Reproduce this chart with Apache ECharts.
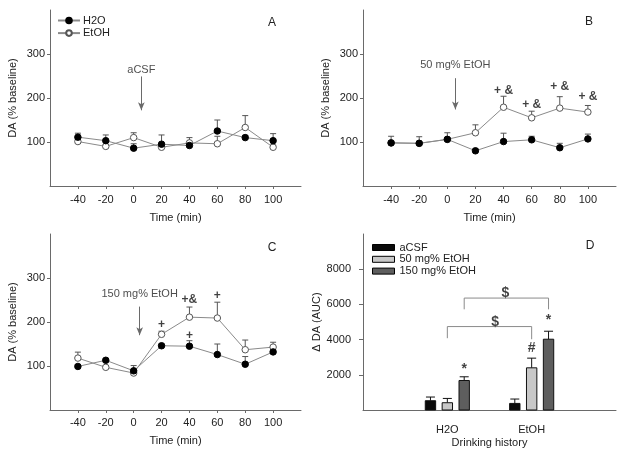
<!DOCTYPE html>
<html><head><meta charset="utf-8">
<script src="https://cdn.jsdelivr.net/npm/echarts@6/dist/echarts.min.js"></script>
<style>html,body{margin:0;padding:0;background:#fff}#c{width:624px;height:456px}</style>
</head><body><div id="c"></div>
<script>
// ---------- data ----------
const timeTicks = [-40, -20, 0, 20, 40, 60, 80, 100];
const pctTicks = [100, 200, 300];
const aucTicks = [2000, 4000, 6000, 8000];
const groups = ['H2O', 'EtOH'];

const A_h2o      = [111, 103, 86, 95, 92, 125, 110, 103];
const A_h2o_err  = [9, 13, 10, 21, 5, 25, 5, 16];
const A_etoh     = [101, 90, 110, 88, 98, 96, 133, 88];
const A_etoh_err = [4, 4, 11, 5, 12, 17, 27, 5];

const B_h2o      = [98, 97, 106, 80, 101, 105, 87, 107];
const B_h2o_err  = [4, 3, 4, 4, 19, 8, 10, 11];
const B_etoh     = [98, 97, 106, 121, 179, 155, 177, 168];
const B_etoh_err = [15, 15, 15, 18, 25, 15, 26, 15];

const C_h2o      = [99, 113, 89, 146, 145, 126, 104, 132];
const C_h2o_err  = [4, 3, 12, 4, 12.5, 24, 17.5, 6];
const C_etoh     = [118, 97, 84, 172, 211, 209, 137, 143];
const C_etoh_err = [13.5, 4, 6, 7, 23, 36, 22, 11];

const D_acsf     = [527, 374];
const D_acsf_err = [209, 249];
const D_50       = [413, 2397];
const D_50_err   = [244, 549];
const D_150      = [1677, 4022];
const D_150_err  = [210, 454];
const doseNames = ['aCSF', '50 mg% EtOH', '150 mg% EtOH'];

// annotations (data coordinates)
const annB = [[40, 217, '+ &'], [60, 185, '+ &'], [80, 225, '+ &'], [100, 204, '+ &']];
const annC = [[20, 194, '+'], [40, 251, '+&'], [60, 259, '+'], [40, 170, '+']];
const annD = [[1.2, 2300, '*'], [2.0, 3500, '#'], [2.2, 5100, '*'], [1.688, 6650, '$'], [1.566, 4970, '$']];
const arrows = [
  {text: 'aCSF', x: 5.5, top: 249, tip: 172, labelY: 263},
  {text: '50 mg% EtOH', x: 5.7, top: 245, tip: 174, labelY: 274},
  {text: '150 mg% EtOH', x: 4.3, top: 235, tip: 170, labelY: 264}
];
// brackets: [xLeft, xRight, yTop, yLeftEnd, yRightEnd]
const brackets = [[1.0, 2.0, 4740, 4080, 4020], [1.2, 2.2, 6360, 5720, 5720]];

// ---------- styling ----------
const FONT = "'Liberation Sans', Arial, sans-serif";
const TXT = '#222';
const AX = '#6a6a6a';
const grids = [
  {left: 50, top: 10, width: 251, height: 176},
  {left: 363, top: 10, width: 253, height: 176},
  {left: 50, top: 234, width: 251, height: 176},
  {left: 363, top: 234, width: 253, height: 176}
];

function timeAxis(gi, labelMargin, nameGap) {
  return {
    type: 'value', gridIndex: gi, min: -60, max: 120,
    name: 'Time (min)', nameLocation: 'middle', nameGap: nameGap,
    nameTextStyle: {fontFamily: FONT, fontSize: 11, color: TXT},
    axisLine: {show: true, onZero: false, lineStyle: {color: AX, width: 1}},
    axisTick: {show: true, length: 3, lineStyle: {color: AX}, customValues: timeTicks},
    axisLabel: {fontFamily: FONT, fontSize: 11, color: TXT, margin: labelMargin, customValues: timeTicks},
    splitLine: {show: false}
  };
}
function pctAxis(gi) {
  return {
    type: 'value', gridIndex: gi, min: 0, max: 400,
    name: 'DA (% baseline)', nameLocation: 'middle', nameGap: 32, nameRotate: 90,
    nameTextStyle: {fontFamily: FONT, fontSize: 11, color: TXT},
    axisLine: {show: true, onZero: false, lineStyle: {color: AX, width: 1}},
    axisTick: {show: true, length: 3, lineStyle: {color: AX}, customValues: pctTicks},
    axisLabel: {fontFamily: FONT, fontSize: 11, color: TXT, margin: 5, customValues: pctTicks},
    splitLine: {show: false}
  };
}

const xAxes = [
  timeAxis(0, 8, 26), timeAxis(1, 8, 26), timeAxis(2, 7, 25),
  {
    type: 'value', gridIndex: 3, min: 0, max: 3,
    name: 'Drinking history', nameLocation: 'middle', nameGap: 27,
    nameTextStyle: {fontFamily: FONT, fontSize: 11, color: TXT},
    axisLine: {show: true, onZero: false, lineStyle: {color: AX, width: 1}},
    axisTick: {show: false},
    axisLabel: {fontFamily: FONT, fontSize: 11, color: TXT, margin: 14, customValues: [1, 2],
      formatter: v => groups[Math.round(v) - 1] || ''},
    splitLine: {show: false}
  }
];
const yAxes = [
  pctAxis(0), pctAxis(1), pctAxis(2),
  {
    type: 'value', gridIndex: 3, min: 0, max: 10000,
    name: 'Δ DA (AUC)', nameLocation: 'middle', nameGap: 30, nameRotate: 90,
    nameTextStyle: {fontFamily: FONT, fontSize: 11, color: TXT},
    axisLine: {show: true, onZero: false, lineStyle: {color: AX, width: 1}},
    axisTick: {show: true, length: 4, lineStyle: {color: AX}, customValues: aucTicks},
    axisLabel: {fontFamily: FONT, fontSize: 11, color: TXT, margin: 12, customValues: aucTicks,
      formatter: v => String(v)},
    splitLine: {show: false}
  }
];

const series = [];
function errSeries(gi, vals, errs, capHalf) {
  return {
    type: 'custom', xAxisIndex: gi, yAxisIndex: gi, silent: true, z: 1,
    data: vals.map((v, i) => [timeTicks[i], v, errs[i]]),
    renderItem: function (params, api) {
      const x = api.value(0), y = api.value(1), e = api.value(2);
      const p0 = api.coord([x, y]), p1 = api.coord([x, y + e]);
      const st = {stroke: '#555', lineWidth: 1};
      return {type: 'group', children: [
        {type: 'line', shape: {x1: p0[0], y1: p0[1], x2: p1[0], y2: p1[1]}, style: st},
        {type: 'line', shape: {x1: p1[0] - capHalf, y1: p1[1], x2: p1[0] + capHalf, y2: p1[1]}, style: st}
      ]};
    }
  };
}
function lineSeries(gi, name, vals, filled) {
  return {
    type: 'line', name: name, xAxisIndex: gi, yAxisIndex: gi, z: 3,
    data: vals.map((v, i) => [timeTicks[i], v]),
    symbol: 'circle', symbolSize: 6.5,
    showAllSymbol: true,
    itemStyle: filled ? {color: '#000', borderColor: '#000', borderWidth: 1}
                      : {color: '#fff', borderColor: '#555', borderWidth: 1},
    lineStyle: {color: '#8a8a8a', width: 1},
    emphasis: {disabled: true}, animation: false
  };
}
function annSeries(gi, list, fontSize, bold) {
  return {
    type: 'scatter', xAxisIndex: gi, yAxisIndex: gi, silent: true, symbolSize: 0, z: 5,
    data: list.map(a => ({value: [a[0], a[1]], name: a[2]})),
    label: {show: true, position: 'inside', formatter: '{b}', fontFamily: FONT, fontSize: fontSize,
      fontWeight: bold ? 'bold' : 'normal', color: '#111'}
  };
}
function arrowSeries(gi, ar) {
  return {
    type: 'scatter', xAxisIndex: gi, yAxisIndex: gi, silent: true, symbolSize: 0, z: 5,
    data: [{value: [ar.x, ar.labelY], name: ar.text}],
    label: {show: true, position: 'inside', formatter: '{b}', fontFamily: FONT, fontSize: 11, color: TXT},
    markLine: {
      silent: true, symbol: ['none', 'arrow'], symbolSize: [5, 8], animation: false,
      lineStyle: {color: '#6a6a6a', width: 1, type: 'solid'}, label: {show: false},
      emphasis: {disabled: true},
      data: [[{coord: [ar.x, ar.top]}, {coord: [ar.x, ar.tip]}]]
    }
  };
}

const panels = [
  [A_h2o, A_h2o_err, A_etoh, A_etoh_err],
  [B_h2o, B_h2o_err, B_etoh, B_etoh_err],
  [C_h2o, C_h2o_err, C_etoh, C_etoh_err]
];
panels.forEach((p, gi) => {
  series.push(errSeries(gi, p[0], p[1], 3));
  series.push(errSeries(gi, p[2], p[3], 3));
  series.push(lineSeries(gi, 'EtOH', p[2], false));
  series.push(lineSeries(gi, 'H2O', p[0], true));
  series.push(arrowSeries(gi, arrows[gi]));
});
series.push(annSeries(1, annB, 12, true));
series.push(annSeries(2, annC, 12, true));

// panel D bars
const doseVals = [[D_acsf, D_acsf_err], [D_50, D_50_err], [D_150, D_150_err]];
const doseColors = ['#0a0a0a', '#c8c8c8', '#5e5e5e'];
const offsets = [-0.2, 0, 0.2];
const barW = 0.123;
doseVals.forEach((dv, k) => {
  series.push({
    type: 'custom', name: doseNames[k], xAxisIndex: 3, yAxisIndex: 3, silent: true, z: 2,
    itemStyle: {color: doseColors[k], borderColor: '#000', borderWidth: 1},
    data: dv[0].map((v, i) => [i + 1, v, dv[1][i]]),
    renderItem: function (params, api) {
      const g = api.value(0) + offsets[k], v = api.value(1), e = api.value(2);
      const tl = api.coord([g - barW / 2, v]);
      const br = api.coord([g + barW / 2, 0]);
      const c = api.coord([g, v]);
      const t = api.coord([g, v + e]);
      const st = {stroke: '#111', lineWidth: 1};
      return {type: 'group', children: [
        {type: 'line', shape: {x1: c[0], y1: c[1], x2: t[0], y2: t[1]}, style: st},
        {type: 'line', shape: {x1: t[0] - 4.5, y1: t[1], x2: t[0] + 4.5, y2: t[1]}, style: st},
        {type: 'rect', shape: {x: tl[0], y: tl[1], width: br[0] - tl[0], height: br[1] - tl[1]},
          style: {fill: doseColors[k], stroke: '#111', lineWidth: 1}}
      ]};
    }
  });
});
series.push({
  type: 'custom', xAxisIndex: 3, yAxisIndex: 3, silent: true, z: 2,
  data: brackets,
  renderItem: function (params, api) {
    const a = api.coord([api.value(0), api.value(3)]);
    const b = api.coord([api.value(0), api.value(2)]);
    const c = api.coord([api.value(1), api.value(2)]);
    const d = api.coord([api.value(1), api.value(4)]);
    return {type: 'polyline', shape: {points: [a, b, c, d]}, style: {stroke: '#8a8a8a', lineWidth: 1, fill: null}};
  }
});
series.push(annSeries(3, annD, 14, true));

const option = {
  animation: false,
  backgroundColor: '#fff',
  grid: grids,
  xAxis: xAxes,
  yAxis: yAxes,
  legend: [
    {data: ['H2O', 'EtOH'], orient: 'vertical', left: 57, top: 15, itemWidth: 22, itemHeight: 7,
      itemGap: 1.6, selectedMode: false, padding: 0,
      textStyle: {fontFamily: FONT, fontSize: 11, color: TXT, lineHeight: 10, padding: [0, 0, 0, -2]}},
    {data: doseNames, orient: 'vertical', left: 372, top: 242, itemWidth: 22, itemHeight: 6,
      itemGap: 0.8, selectedMode: false, padding: 0, icon: 'rect',
      itemStyle: {borderColor: '#000', borderWidth: 1},
      textStyle: {fontFamily: FONT, fontSize: 11, color: TXT, lineHeight: 10}}
  ],
  graphic: [
    {type: 'text', x: 272, y: 23, style: {text: 'A', font: '12px ' + FONT, fill: TXT, textAlign: 'center', textVerticalAlign: 'middle'}},
    {type: 'text', x: 589, y: 22, style: {text: 'B', font: '12px ' + FONT, fill: TXT, textAlign: 'center', textVerticalAlign: 'middle'}},
    {type: 'text', x: 272, y: 248, style: {text: 'C', font: '12px ' + FONT, fill: TXT, textAlign: 'center', textVerticalAlign: 'middle'}},
    {type: 'text', x: 590, y: 246, style: {text: 'D', font: '12px ' + FONT, fill: TXT, textAlign: 'center', textVerticalAlign: 'middle'}}
  ],
  series: series
};
const chart = echarts.init(document.getElementById('c'), null, {renderer: 'canvas'});
chart.setOption(option);
</script>
</body></html>
